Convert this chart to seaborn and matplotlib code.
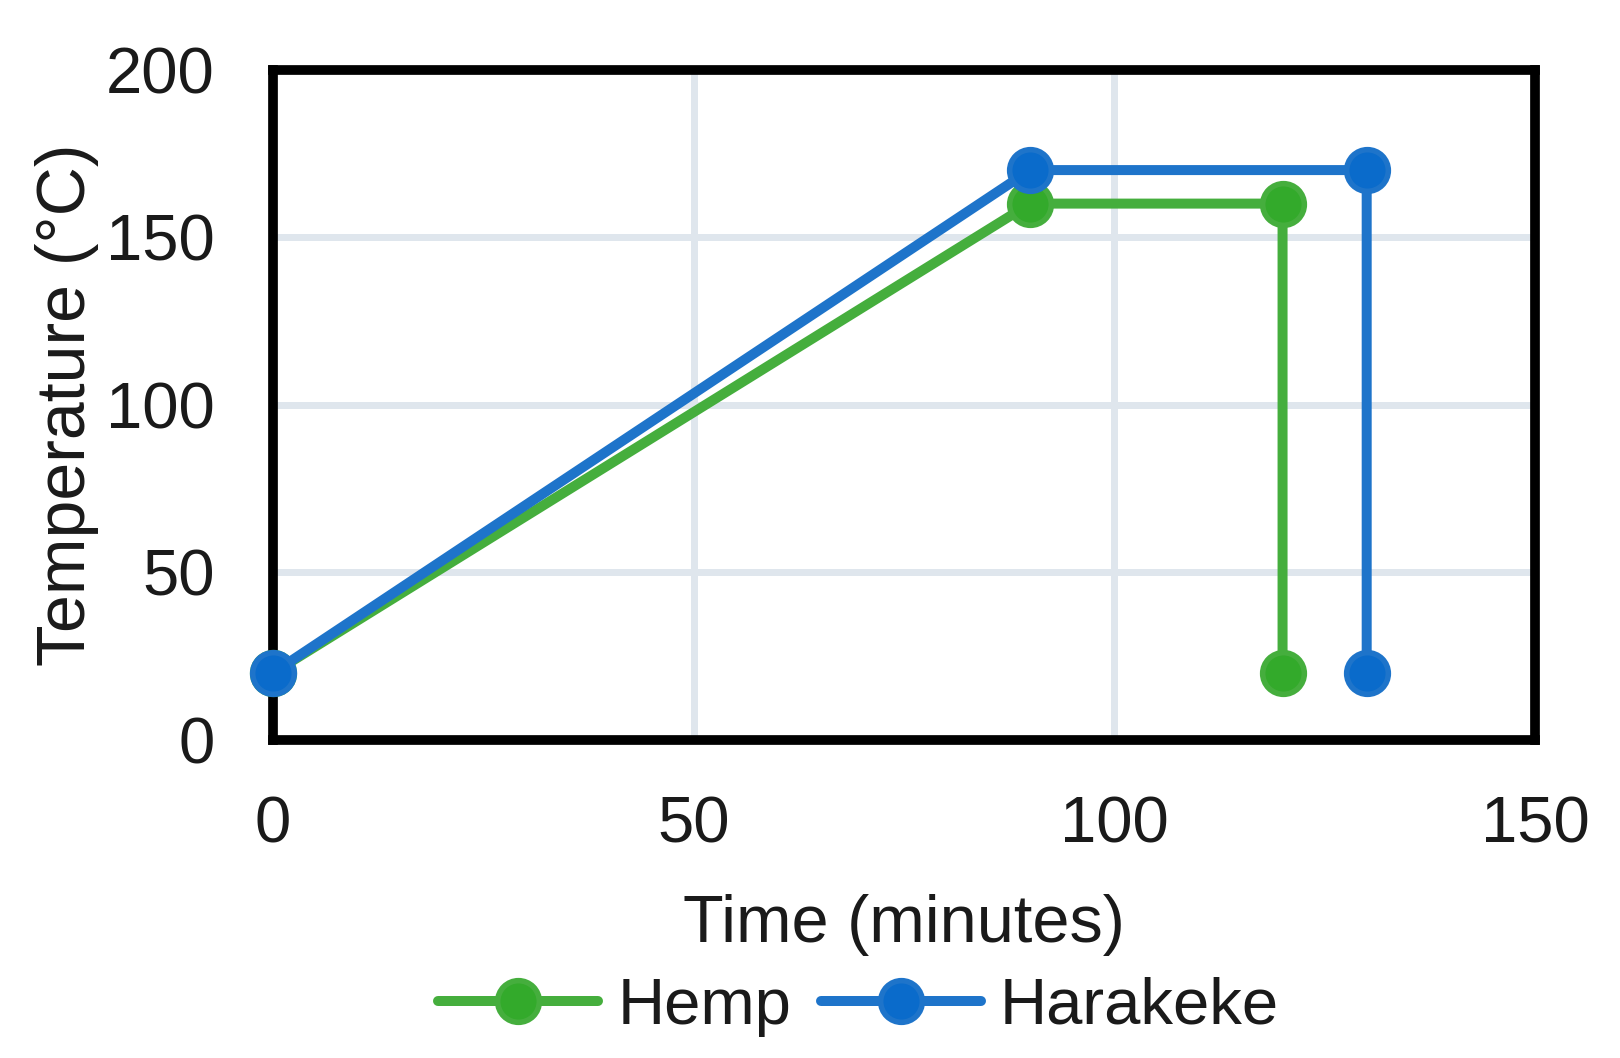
import matplotlib
matplotlib.use("Agg")
import matplotlib.pyplot as plt
import pandas as pd
import seaborn as sns

# curing cycles
hemp_time = [0, 90, 120, 120]
hemp_temp = [20, 160, 160, 20]
harakeke_time = [0, 90, 130, 130]
harakeke_temp = [20, 170, 170, 20]
fibres = ["Hemp", "Harakeke"]
x_ticks = [0, 50, 100, 150]
y_ticks = [0, 50, 100, 150, 200]

line_cols = {"Hemp": "#45ae3d", "Harakeke": "#1e74ca"}
face_cols = {"Hemp": "#33aa2b", "Harakeke": "#0a6bcb"}

df = pd.DataFrame({
    "time": hemp_time + harakeke_time,
    "temp": hemp_temp + harakeke_temp,
    "fibre": ["Hemp"] * len(hemp_time) + ["Harakeke"] * len(harakeke_time),
})

sns.set_style("white")
plt.rcParams["font.family"] = ["Liberation Sans", "DejaVu Sans"]
plt.rcParams["text.color"] = "#1a1a1a"
plt.rcParams["xtick.color"] = "#1a1a1a"
plt.rcParams["ytick.color"] = "#1a1a1a"
plt.rcParams["axes.labelcolor"] = "#1a1a1a"

fig = plt.figure(figsize=(16.2, 10.58), dpi=100)
ax = fig.add_axes([0.1685, 0.3006, 0.779, 0.6337])

sns.lineplot(data=df, x="time", y="temp", hue="fibre", hue_order=fibres,
             palette=line_cols, estimator=None, sort=False, marker="o",
             markersize=30, markeredgewidth=4, linewidth=7.2, ax=ax,
             clip_on=False, zorder=5)

for ln, f in zip(ax.lines, fibres):
    ln.set_markerfacecolor(face_cols[f])
    ln.set_markeredgecolor(line_cols[f])

ax.set_xlim(0, 150)
ax.set_ylim(0, 200)
ax.set_xticks(x_ticks)
ax.set_yticks(y_ticks)
ax.grid(True, color="#dfe6ed", linewidth=5)
ax.set_axisbelow(True)
for s in ax.spines.values():
    s.set_visible(True)
    s.set_color("black")
    s.set_linewidth(7)
    s.set_zorder(4)
ax.tick_params(axis="both", length=0, labelsize=47)
ax.tick_params(axis="x", pad=40)
ax.tick_params(axis="y", pad=42)
ax.set_xlabel("Time (minutes)", fontsize=48, labelpad=28)
ax.set_ylabel("Temperature (°C)", fontsize=49, labelpad=5)

handles, labels = ax.get_legend_handles_labels()
for h, f in zip(handles, fibres):
    h.set_markerfacecolor(face_cols[f])
    h.set_markeredgecolor(line_cols[f])
ax.legend(handles, labels, loc="center", bbox_to_anchor=(0.464, -0.398),
          ncol=2, frameon=False, fontsize=47, handlelength=2.45,
          handletextpad=0.3, columnspacing=0.45, borderaxespad=0)

fig.savefig("out.png", dpi=100, facecolor="white")
